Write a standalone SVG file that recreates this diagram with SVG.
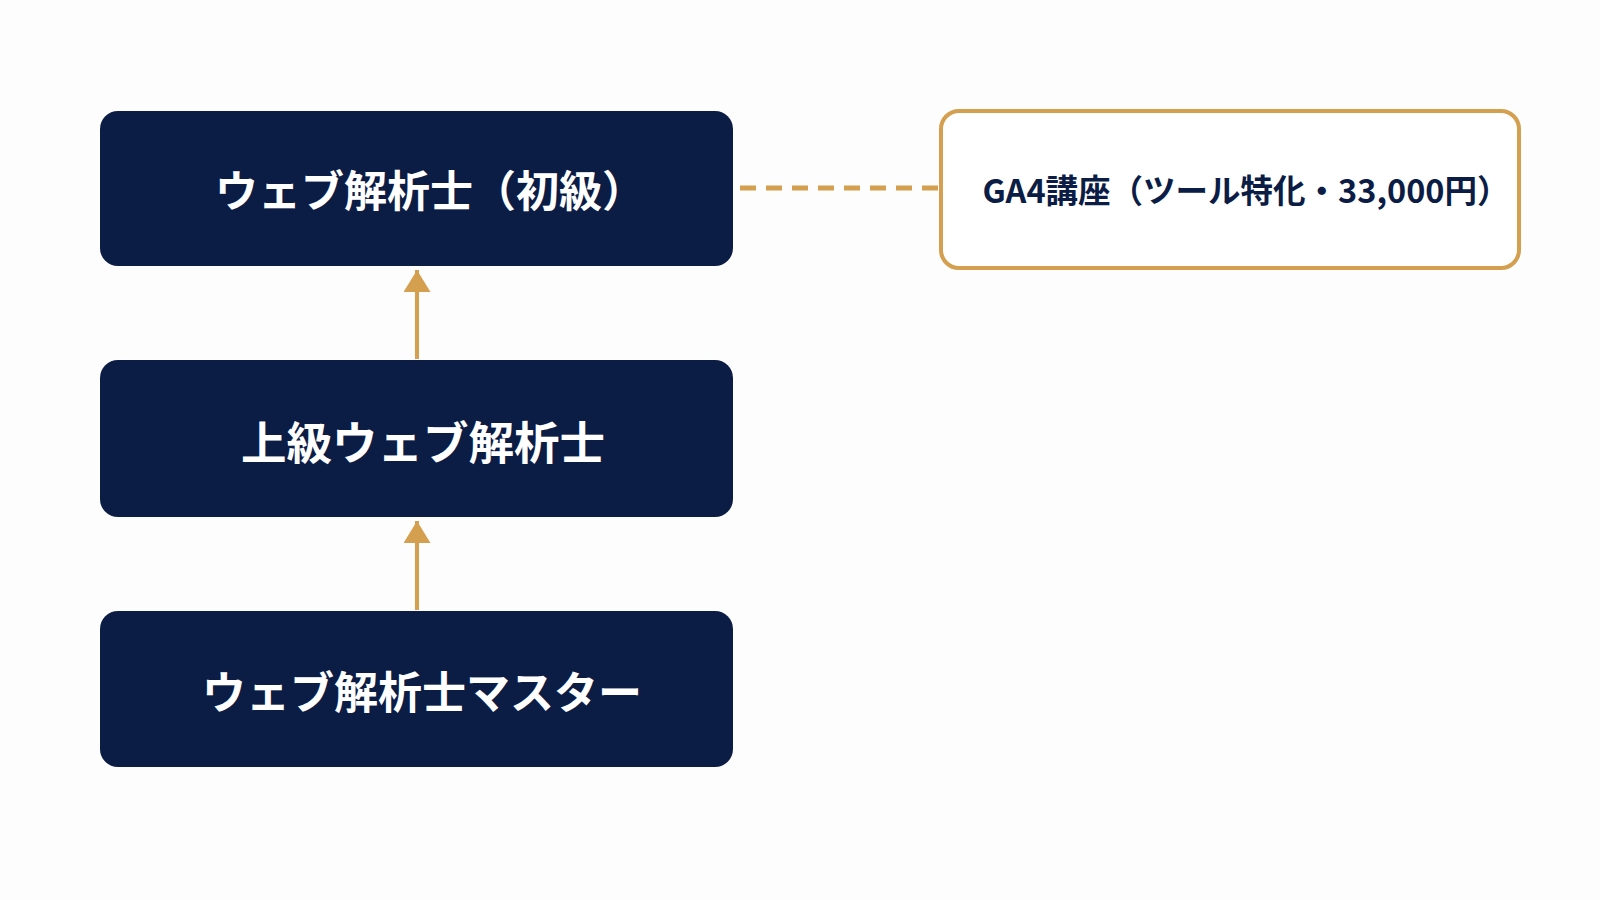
<svg xmlns="http://www.w3.org/2000/svg" width="1600" height="900" viewBox="0 0 1600 900">
  <style>
    .node { fill: #0B1C45; }
    .label { font-family: "Noto Sans CJK JP", "Noto Sans", sans-serif; font-weight: 700; fill: #FFFFFF; font-size: 44px; text-anchor: middle; dominant-baseline: central; }
    .side { fill: #FFFFFF; stroke: #D4A050; stroke-width: 4; }
    .sidelabel { font-family: "Noto Sans CJK JP", "Noto Sans", sans-serif; font-weight: 700; fill: #0B1C45; font-size: 32.5px; text-anchor: middle; dominant-baseline: central; }
    .arrow { stroke: #D4A050; stroke-width: 4; fill: none; }
    .dash { stroke: #D4A050; stroke-width: 5; fill: none; stroke-dasharray: 16 10; }
  </style>
  <defs>
    <marker id="head" viewBox="0 0 10 10" refX="10" refY="5" markerWidth="5.5" markerHeight="6.75" markerUnits="strokeWidth" orient="auto" preserveAspectRatio="none">
      <path d="M0,0 L10,5 L0,10 Z" fill="#D4A050"/>
    </marker>
  </defs>
  <rect width="1600" height="900" fill="#FDFDFD"/>
  <g id="connectors">
    <line class="arrow" x1="417" y1="359" x2="417" y2="270" marker-end="url(#head)"/>
    <line class="arrow" x1="417" y1="610" x2="417" y2="521" marker-end="url(#head)"/>
    <line class="dash" x1="740" y1="188" x2="941" y2="188"/>
  </g>
  <g id="node-shokyu">
    <rect class="node" x="100" y="111" width="633" height="155" rx="18"/>
    <text class="label" x="430" y="188" style="font-size:43px">ウェブ解析士（初級）</text>
  </g>
  <g id="node-jokyu">
    <rect class="node" x="100" y="360" width="633" height="157" rx="18"/>
    <text class="label" x="423" y="440" style="font-size:45.5px">上級ウェブ解析士</text>
  </g>
  <g id="node-master">
    <rect class="node" x="100" y="611" width="633" height="156" rx="18"/>
    <text class="label" x="422" y="690">ウェブ解析士マスター</text>
  </g>
  <g id="node-ga4">
    <rect class="side" x="941" y="111" width="578" height="157" rx="18"/>
    <text class="sidelabel" x="1246" y="188">GA4講座（ツール特化・33,000円）</text>
  </g>
</svg>
